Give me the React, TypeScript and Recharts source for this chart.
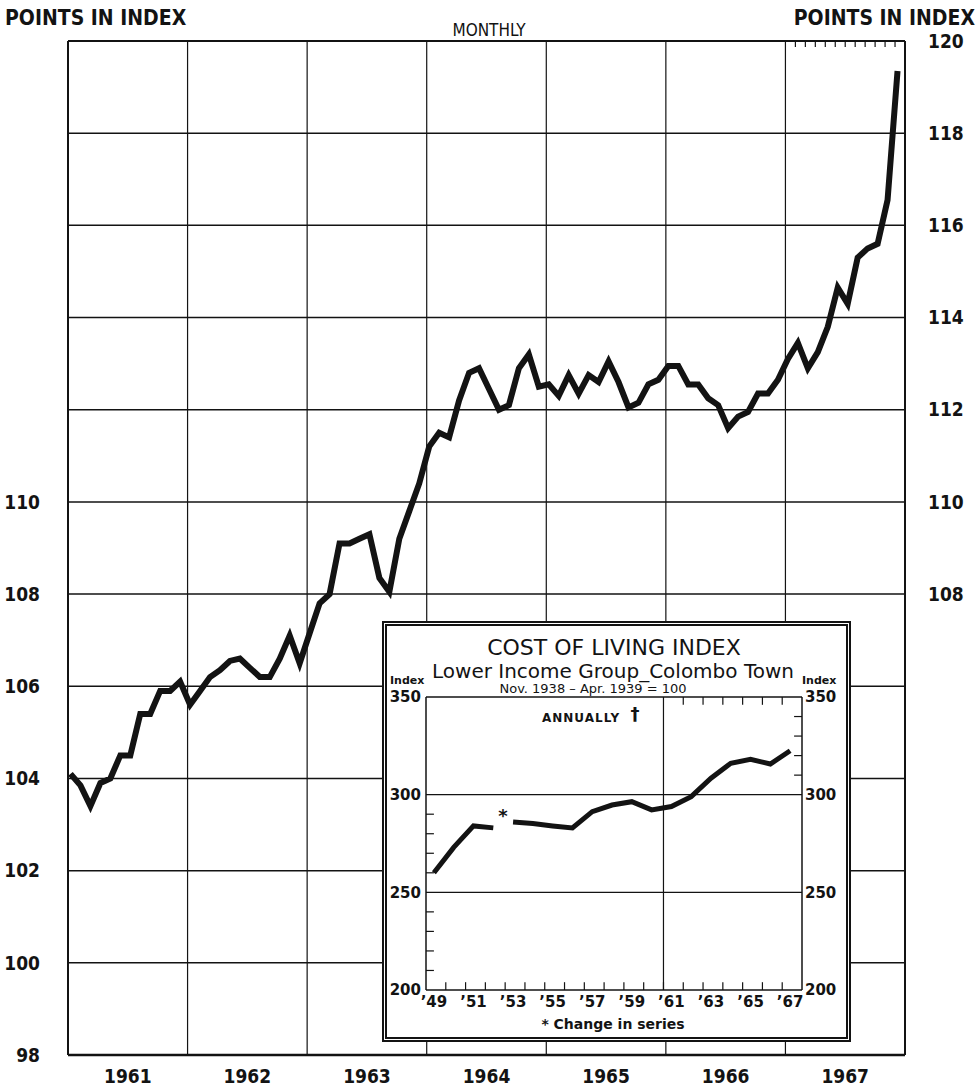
import React from 'react';
import { LineChart, Line, XAxis, YAxis, ReferenceLine } from 'recharts';

const INK = '#131313';
const COND = "'DejaVu Sans Condensed', 'DejaVu Sans', sans-serif";
const SANS = "'DejaVu Sans', 'Liberation Sans', sans-serif";

// main chart: monthly points in index, Jan 1961 .. Dec 1967
const yearLabels = ['1961', '1962', '1963', '1964', '1965', '1966', '1967'];
const monthlyIndex = [
  104.1, 103.85, 103.4, 103.9, 104.0, 104.5, 104.5, 105.4, 105.4, 105.9, 105.9, 106.1,
  105.6, 105.9, 106.2, 106.35, 106.55, 106.6, 106.4, 106.2, 106.2, 106.6, 107.1, 106.5,
  107.15, 107.8, 108.0, 109.1, 109.1, 109.2, 109.3, 108.35, 108.05, 109.2, 109.8, 110.4,
  111.2, 111.5, 111.4, 112.2, 112.8, 112.9, 112.45, 112.0, 112.1, 112.9, 113.2, 112.5,
  112.55, 112.3, 112.75, 112.35, 112.75, 112.6, 113.05, 112.6, 112.05, 112.15, 112.55, 112.65,
  112.95, 112.95, 112.55, 112.55, 112.25, 112.1, 111.6, 111.85, 111.95, 112.35, 112.35, 112.65,
  113.1, 113.45, 112.9, 113.25, 113.8, 114.65, 114.3, 115.3, 115.5, 115.6, 116.55, 119.35,
];
const leftTicks = [98, 100, 102, 104, 106, 108, 110];
const rightTicks = [108, 110, 112, 114, 116, 118, 120];
const gridValues = [100, 102, 104, 106, 108, 110, 112, 114, 116, 118];

// inset: annual cost of living index, lower income group, Colombo town
const insetYears = [1949, 1950, 1951, 1952, 1953, 1954, 1955, 1956, 1957, 1958, 1959, 1960, 1961, 1962, 1963, 1964, 1965, 1966, 1967];
const insetIndex = [260, 273, 284, 283, 286, 285.2, 284, 283, 291.3, 294.7, 296.4, 292.2, 293.9, 299, 308.4, 316.1, 318.1, 315.7, 322.5];
const seriesBreakYear = 1953;
const insetYTicks = [200, 250, 300, 350];
const insetGrid = [250, 300];
const insetLeftMinor = [210, 220, 230, 240, 260, 270, 280, 290];
const insetRightMinor = [310, 320, 330, 340];

const months = monthlyIndex.map((v, i) => ({ m: i + 0.25, v }));
const yearMids = yearLabels.map((_, i) => i * 12 + 6);
const yearLines = yearLabels.slice(1).map((_, i) => (i + 1) * 12);
const lastYearMonths = Array.from({ length: 11 }, (_, i) => 73 + i);

const insetData = insetYears.map((y, i) => ({
  x: y + 0.4,
  before: y < seriesBreakYear ? insetIndex[i] : null,
  after: y >= seriesBreakYear ? insetIndex[i] : null,
}));
const insetLabelYears = insetYears.filter((y) => y % 2 === 1);
const insetLabelTicks = insetLabelYears.map((y) => y + 0.4);
const insetTickYears = insetYears.slice(1);
const insetTopTickYears = insetYears.filter((y) => y > 1961);

const mainTick = { fill: INK, fontSize: 19, fontWeight: 700, fontFamily: COND };
const insetTick = { fill: INK, fontSize: 15, fontWeight: 700, fontFamily: SANS };

export default function App() {
  return (
    <div style={{ position: 'absolute', left: 0, top: 0, width: 978, height: 1092, background: '#fff' }}>
      <div style={{ position: 'absolute', left: 0, top: 0 }}>
        <LineChart width={978} height={1092} data={months} margin={{ top: 41, right: 3, bottom: 7, left: 8 }}>
          <XAxis
            dataKey="m"
            type="number"
            domain={[0, 84]}
            ticks={yearMids}
            interval={0}
            tickFormatter={(_v, i) => yearLabels[i]}
            height={30}
            tickSize={0}
            tickMargin={15}
            tickLine={false}
            axisLine={{ stroke: INK, strokeWidth: 2.5 }}
            tick={mainTick}
          />
          <YAxis
            yAxisId="l"
            domain={[98, 120]}
            ticks={leftTicks}
            interval={0}
            width={60}
            tickSize={0}
            tickMargin={28}
            tickLine={false}
            axisLine={{ stroke: INK, strokeWidth: 2 }}
            tick={mainTick}
          />
          <YAxis
            yAxisId="r"
            orientation="right"
            domain={[98, 120]}
            ticks={rightTicks}
            interval={0}
            width={70}
            tickSize={0}
            tickMargin={23}
            tickLine={false}
            axisLine={{ stroke: INK, strokeWidth: 2 }}
            tick={mainTick}
          />
          {gridValues.map((v) => (
            <ReferenceLine key={'g' + v} yAxisId="l" y={v} stroke={INK} strokeWidth={1.5} />
          ))}
          {yearLines.map((x) => (
            <ReferenceLine key={'y' + x} yAxisId="l" x={x} stroke={INK} strokeWidth={1.2} />
          ))}
          <ReferenceLine yAxisId="l" y={120} stroke={INK} strokeWidth={2} />
          {lastYearMonths.map((k) => (
            <ReferenceLine
              key={'t' + k}
              yAxisId="l"
              segment={[{ x: k, y: 120 }, { x: k, y: 119.87 }]}
              stroke={INK}
              strokeWidth={1.2}
            />
          ))}
          {/* same series on the right scale, invisible, so the right axis gets its ticks */}
          <Line yAxisId="r" dataKey="v" stroke="none" dot={false} activeDot={false} isAnimationActive={false} />
          <Line
            yAxisId="l"
            type="linear"
            dataKey="v"
            stroke={INK}
            strokeWidth={6}
            dot={false}
            activeDot={false}
            isAnimationActive={false}
          />
        </LineChart>
      </div>

      <div
        style={{
          position: 'absolute',
          left: 382,
          top: 621,
          width: 469,
          height: 421,
          boxSizing: 'border-box',
          border: `5px double ${INK}`,
          background: '#fff',
        }}
      />

      <div style={{ position: 'absolute', left: 388, top: 626 }}>
        <LineChart width={458} height={409} data={insetData} margin={{ top: 71, right: 0, bottom: 0, left: 0 }}>
          <XAxis
            dataKey="x"
            type="number"
            domain={[1949, 1968]}
            ticks={insetLabelTicks}
            interval={0}
            tickFormatter={(_v, i) => '\u2019' + String(insetLabelYears[i]).slice(2)}
            height={45}
            tickSize={0}
            tickMargin={6}
            tickLine={false}
            axisLine={{ stroke: INK, strokeWidth: 1.5 }}
            tick={insetTick}
          />
          <YAxis
            yAxisId="l"
            domain={[200, 350]}
            ticks={insetYTicks}
            interval={0}
            width={38}
            tickSize={0}
            tickMargin={5}
            tickLine={false}
            axisLine={{ stroke: INK, strokeWidth: 1.5 }}
            tick={insetTick}
          />
          <YAxis
            yAxisId="r"
            orientation="right"
            domain={[200, 350]}
            ticks={insetYTicks}
            interval={0}
            width={44}
            tickSize={0}
            tickMargin={3}
            tickLine={false}
            axisLine={{ stroke: INK, strokeWidth: 1.5 }}
            tick={insetTick}
          />
          {insetGrid.map((v) => (
            <ReferenceLine key={'ig' + v} yAxisId="l" y={v} stroke={INK} strokeWidth={1.2} />
          ))}
          <ReferenceLine yAxisId="l" y={350} stroke={INK} strokeWidth={1.5} />
          <ReferenceLine yAxisId="l" x={1961} stroke={INK} strokeWidth={1.2} />
          {insetTickYears.map((y) => (
            <ReferenceLine key={'ib' + y} yAxisId="l" segment={[{ x: y, y: 200 }, { x: y, y: 204 }]} stroke={INK} strokeWidth={1.2} />
          ))}
          {insetTopTickYears.map((y) => (
            <ReferenceLine key={'it' + y} yAxisId="l" segment={[{ x: y, y: 350 }, { x: y, y: 346 }]} stroke={INK} strokeWidth={1.2} />
          ))}
          {insetLeftMinor.map((v) => (
            <ReferenceLine key={'il' + v} yAxisId="l" segment={[{ x: 1949, y: v }, { x: 1949.4, y: v }]} stroke={INK} strokeWidth={1.2} />
          ))}
          {insetRightMinor.map((v) => (
            <ReferenceLine key={'ir' + v} yAxisId="l" segment={[{ x: 1967.6, y: v }, { x: 1968, y: v }]} stroke={INK} strokeWidth={1.2} />
          ))}
          <Line yAxisId="r" dataKey="after" stroke="none" dot={false} activeDot={false} isAnimationActive={false} />
          <Line yAxisId="l" type="linear" dataKey="before" stroke={INK} strokeWidth={5} dot={false} activeDot={false} isAnimationActive={false} />
          <Line yAxisId="l" type="linear" dataKey="after" stroke={INK} strokeWidth={5} dot={false} activeDot={false} isAnimationActive={false} />
        </LineChart>
      </div>

      <svg width={978} height={1092} style={{ position: 'absolute', left: 0, top: 0, pointerEvents: 'none' }}>
        <g fill={INK}>
          <text x={5} y={25} fontFamily={COND} fontWeight={700} fontSize={21}>POINTS IN INDEX</text>
          <text x={975} y={25} textAnchor="end" fontFamily={COND} fontWeight={700} fontSize={21}>POINTS IN INDEX</text>
          <text x={489} y={36} textAnchor="middle" fontFamily={COND} fontSize={17}>MONTHLY</text>

          <text x={614} y={655} textAnchor="middle" fontFamily={SANS} fontSize={22}>COST OF LIVING INDEX</text>
          <text x={613} y={678} textAnchor="middle" fontFamily={SANS} fontSize={20}>Lower Income Group_Colombo Town</text>
          <text x={593} y={693} textAnchor="middle" fontFamily={SANS} fontSize={13}>Nov. 1938 – Apr. 1939 = 100</text>
          <text x={390} y={684} fontFamily={SANS} fontWeight={700} fontSize={11}>Index</text>
          <text x={802} y={684} fontFamily={SANS} fontWeight={700} fontSize={11}>Index</text>
          <text x={542} y={722} fontFamily={SANS} fontWeight={700} fontSize={12} letterSpacing={1}>ANNUALLY</text>
          <text x={635} y={720} textAnchor="middle" fontFamily={SANS} fontWeight={700} fontSize={18}>†</text>
          <text x={503} y={822} textAnchor="middle" fontFamily={SANS} fontWeight={700} fontSize={18}>*</text>
          <text x={613} y={1029} textAnchor="middle" fontFamily={SANS} fontWeight={700} fontSize={14}>* Change in series</text>
        </g>
      </svg>
    </div>
  );
}
